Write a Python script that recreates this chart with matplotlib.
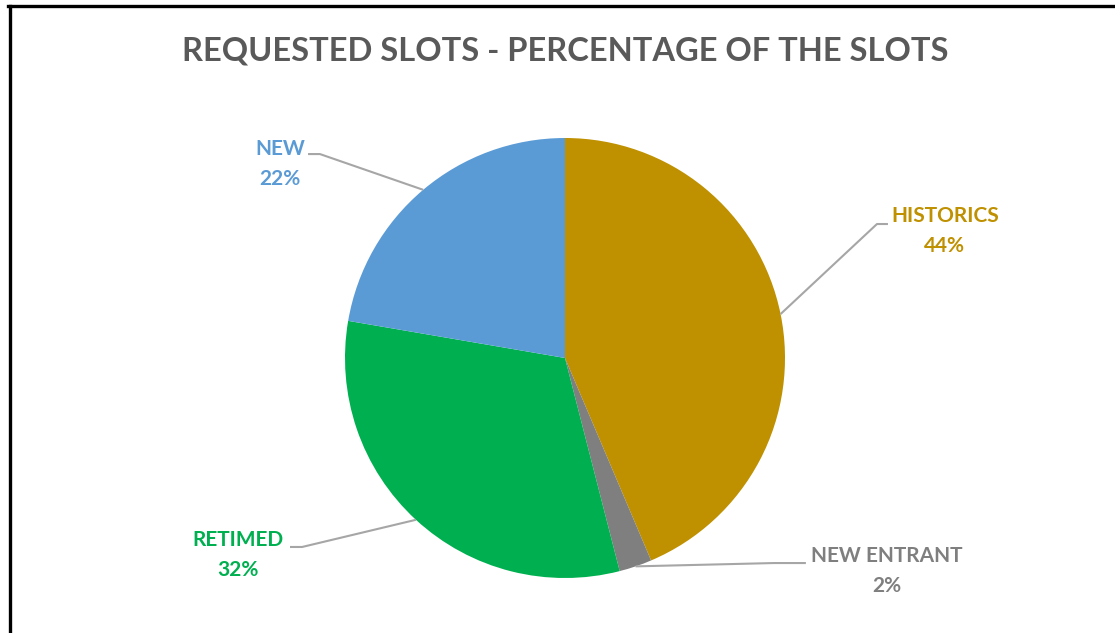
import matplotlib.pyplot as plt
import numpy as np
from matplotlib.lines import Line2D

plt.rcParams['font.family'] = ['Lato', 'DejaVu Sans']

labels = ['HISTORICS', 'NEW ENTRANT', 'RETIMED', 'NEW']
values = [43.6, 2.4, 31.7, 22.3]
colors = ['#BF9000', '#7F7F7F', '#00B050', '#5B9BD5']
title = 'REQUESTED SLOTS - PERCENTAGE OF THE SLOTS'

# label layout in pie units (radius = 1): elbow x, end x, line y, text x, text y
label_pos = {
    'HISTORICS': (1.418, 1.468, 0.609, 1.727, 0.577),
    'NEW ENTRANT': (0.95, 1.095, -0.932, 1.464, -0.968),
    'RETIMED': (-1.195, -1.25, -0.859, -1.486, -0.895),
    'NEW': (-1.114, -1.168, 0.927, -1.295, 0.882),
}

W, H = 1115, 633
fig = plt.figure(figsize=(W/100, H/100), dpi=100)
fig.patch.set_facecolor('white')

cx, cy, r = 565, 358, 220
ax = fig.add_axes([(cx-r)/W, (H-cy-r)/H, 2*r/W, 2*r/H])
wedges, _ = ax.pie(values, colors=colors, startangle=90, counterclock=False,
                   radius=1, wedgeprops=dict(linewidth=0))
ax.set_xlim(-1, 1)
ax.set_ylim(-1, 1)
ax.axis('off')

for w, lab, val, col in zip(wedges, labels, values, colors):
    mid = np.deg2rad((w.theta1 + w.theta2) / 2)
    x0, y0 = np.cos(mid), np.sin(mid)
    ex, endx, ly, tx, ty = label_pos[lab]
    ax.plot([x0, ex, endx], [y0, ly, ly], color='#A6A6A6', lw=1.5,
            clip_on=False, solid_capstyle='butt')
    ax.text(tx, ty, f'{lab}\n{val:.0f}%', color=col, fontsize=15,
            fontweight='bold', ha='center', va='center', linespacing=1.65,
            clip_on=False)

fig.text(565/W, 1 - 51/H, title, fontsize=23.5, fontweight='bold',
         color='#595959', ha='center', va='center')

# outer frame (left and top edges visible)
fig.add_artist(Line2D([9.5/W, 9.5/W], [0, 1 - 6/H], color='black', lw=2.4,
                      transform=fig.transFigure))
fig.add_artist(Line2D([8/W, 1], [1 - 6/H, 1 - 6/H], color='black', lw=2.4,
                      transform=fig.transFigure))

fig.savefig('out.png', dpi=100)
